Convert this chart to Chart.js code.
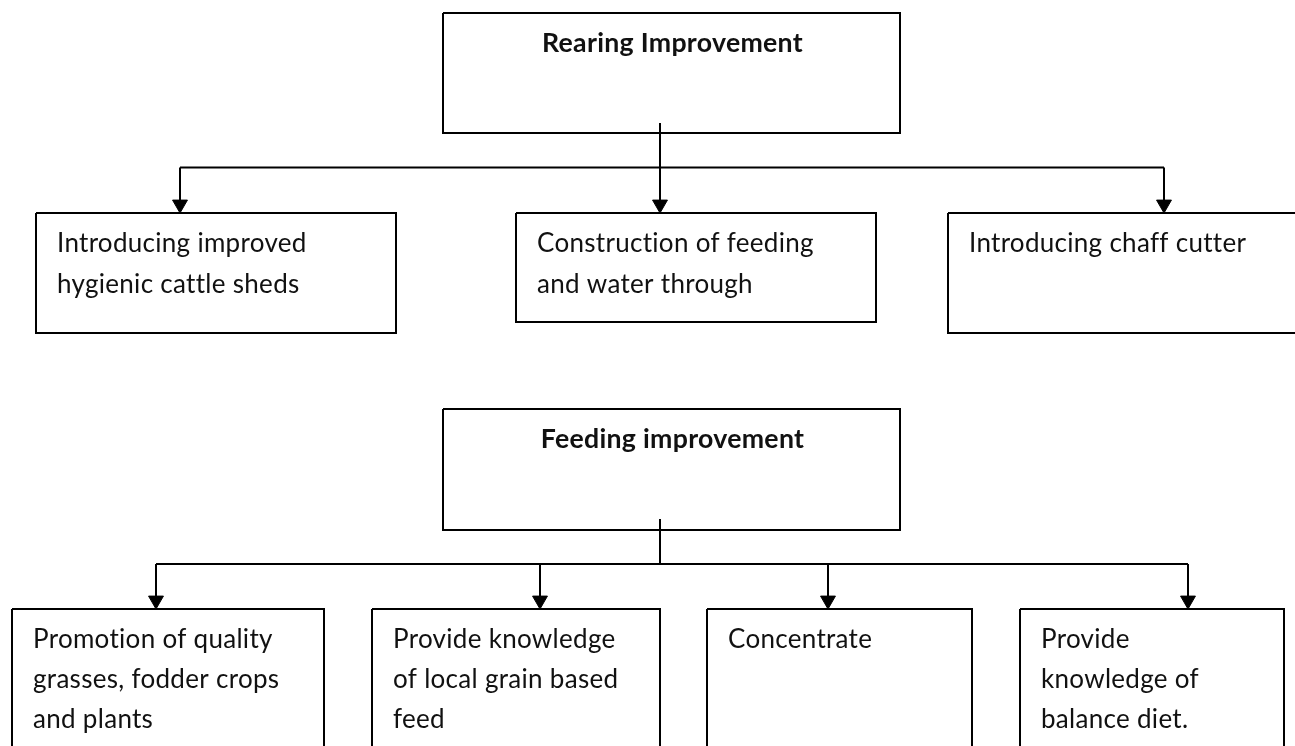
<!DOCTYPE html>
<html>
<head>
<meta charset="utf-8">
<script src="https://cdn.jsdelivr.net/npm/chart.js@4.4.1/dist/chart.umd.min.js"></script>
<style>
  html, body { margin: 0; padding: 0; background: #fff; }
  #wrap { width: 1295px; height: 746px; position: relative; }
</style>
</head>
<body>
<div id="wrap"><canvas id="flow"></canvas></div>
<script>
// Diagram content
const groupTitles = ['Rearing Improvement', 'Feeding improvement'];
const rearingItems = [
    ['Introducing improved', 'hygienic cattle sheds'],
    ['Construction of feeding', 'and water through'],
    ['Introducing chaff cutter']
];
const feedingItems = [
    ['Promotion of quality', 'grasses, fodder crops', 'and plants'],
    ['Provide knowledge', 'of local grain based', 'feed'],
    ['Concentrate'],
    ['Provide', 'knowledge of', 'balance diet.']
];
const groupItems = [rearingItems, feedingItems];

// Layout, in the chart's own units (x 0..1295, y 0..746 top-down)
const parentLeft = [443, 443];
const parentRight = [900, 900];
const parentTop = [13, 409];
const parentBottom = [133, 530];
const stemX = [660, 660];
const stemTop = [123, 519];
const busY = [167.5, 564];
const childLeft = [[36, 516, 948], [12, 372, 707, 1020]];
const childRight = [[396, 876, 1310], [324, 660, 972, 1284]];
const childTop = [213, 609];
const childBottom = [[333, 322, 333], [760, 760, 760, 760]];
const arrowX = [[180, 660, 1164], [156, 540, 828, 1188]];

const INK = '#000';
const LW = 2;
const ARROW_R = 8.6;

function rect(x0, x1, y0, y1) {
    return [{x: x0, y: y0}, {x: x1, y: y0}, {x: x1, y: y1}, {x: x0, y: y1}, {x: x0, y: y0}];
}
function lineSet(data) {
    return { type: 'scatter', data, showLine: true, borderColor: INK, borderWidth: LW,
             pointRadius: 0, pointHoverRadius: 0, fill: false, tension: 0, clip: false };
}

const datasets = [];
groupTitles.forEach((t, g) => {
    datasets.push(lineSet(rect(parentLeft[g], parentRight[g], parentTop[g], parentBottom[g])));
    datasets.push(lineSet([{x: stemX[g], y: stemTop[g]}, {x: stemX[g], y: busY[g] + 1}]));
    const xs = arrowX[g];
    datasets.push(lineSet([{x: xs[0], y: busY[g]}, {x: xs[xs.length - 1], y: busY[g]}]));
    groupItems[g].forEach((item, i) => {
        datasets.push(lineSet(rect(childLeft[g][i], childRight[g][i], childTop[g], childBottom[g][i])));
        datasets.push(lineSet([{x: xs[i], y: busY[g]}, {x: xs[i], y: childTop[g] - 6}]));
    });
    // arrowheads: downward triangles whose tips touch the child boxes
    datasets.push({
        type: 'scatter',
        data: xs.map(x => ({x, y: childTop[g] - ARROW_R})),
        pointStyle: 'triangle', rotation: 180, pointRadius: ARROW_R, pointHoverRadius: ARROW_R,
        backgroundColor: INK, borderColor: INK, borderWidth: 1, showLine: false, clip: false
    });
});

// pick font sizes so the text widths match the picture
const FAMILY = 'Lato, "Open Sans", sans-serif';
const SPACING = '0.3px';
function fitSize(weight, sample, target) {
    const c = document.createElement('canvas').getContext('2d');
    c.font = weight + ' 20px ' + FAMILY;
    c.letterSpacing = SPACING;
    return 20 * target / c.measureText(sample).width;
}
const bodySize = fitSize('normal', 'Construction of feeding', 279);
const titleSize = fitSize('bold', 'Rearing Improvement', 263);

const textPlugin = {
    id: 'boxText',
    afterDatasetsDraw(chart) {
        const {ctx, scales: {x, y}} = chart;
        ctx.save();
        ctx.fillStyle = '#111';
        ctx.textBaseline = 'alphabetic';
        ctx.letterSpacing = SPACING;
        groupTitles.forEach((title, g) => {
            ctx.font = 'bold ' + titleSize + 'px ' + FAMILY;
            ctx.textAlign = 'center';
            const cx = (parentLeft[g] + parentRight[g]) / 2 + 1;
            ctx.fillText(title, x.getPixelForValue(cx), y.getPixelForValue(parentTop[g] + 39));
            ctx.font = bodySize + 'px ' + FAMILY;
            ctx.textAlign = 'left';
            const gap = g === 0 ? 41 : 40;
            groupItems[g].forEach((lines, i) => {
                lines.forEach((ln, k) => {
                    ctx.fillText(ln, x.getPixelForValue(childLeft[g][i] + 21),
                                 y.getPixelForValue(childTop[g] + 39 + k * gap));
                });
            });
        });
        ctx.restore();
    }
};

new Chart(document.getElementById('flow'), {
    type: 'scatter',
    data: { datasets },
    options: {
        responsive: true,
        maintainAspectRatio: false,
        animation: false,
        events: [],
        layout: { padding: 0, autoPadding: false },
        scales: {
            x: { type: 'linear', min: 0, max: 1295, display: false },
            y: { type: 'linear', min: 0, max: 746, reverse: true, display: false }
        },
        plugins: { legend: { display: false }, tooltip: { enabled: false } }
    },
    plugins: [textPlugin]
});
</script>
</body>
</html>
